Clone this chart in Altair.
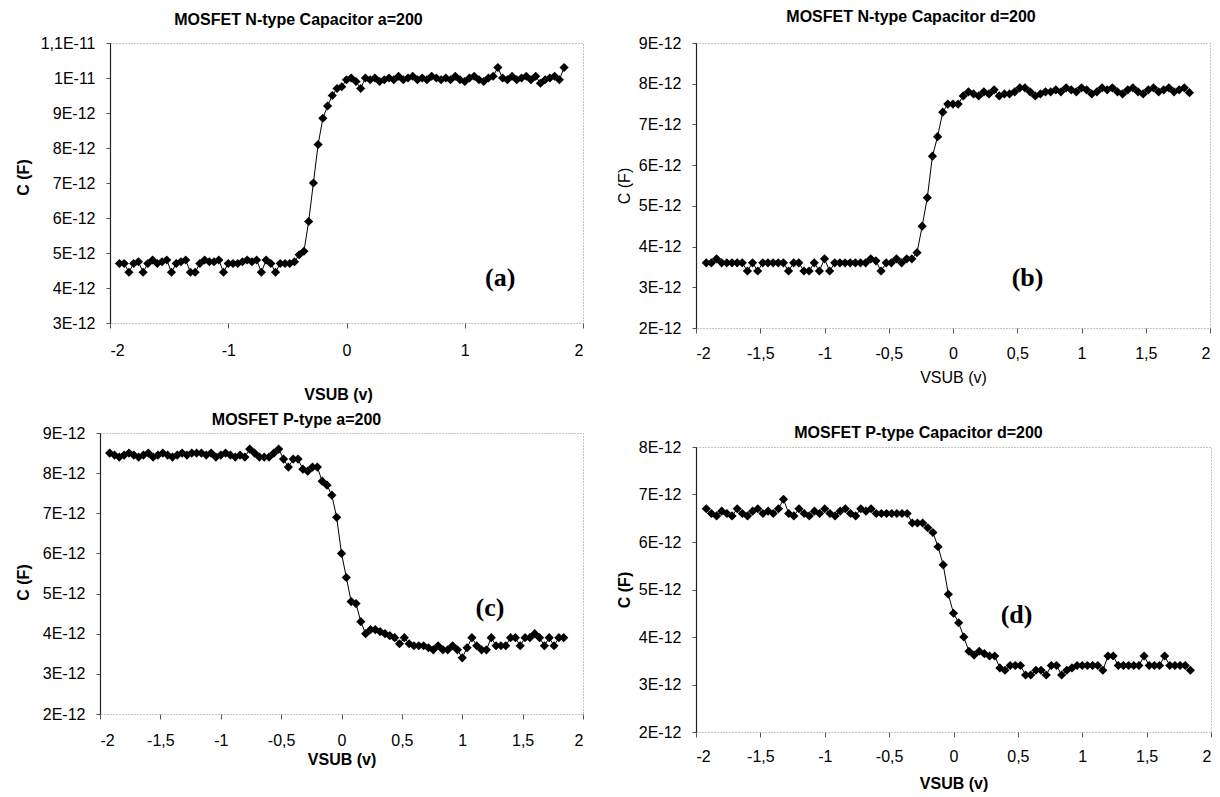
import altair as alt
import pandas as pd

# Sweep voltage VSUB (V), shared by the four measurements
VSUB = [-1.92, -1.88, -1.84, -1.80, -1.76, -1.72, -1.68, -1.64, -1.60, -1.56,
        -1.52, -1.48, -1.44, -1.40, -1.36, -1.32, -1.28, -1.24, -1.20, -1.16,
        -1.12, -1.08, -1.04, -1.00, -0.96, -0.92, -0.88, -0.84, -0.80, -0.76,
        -0.72, -0.68, -0.64, -0.60, -0.56, -0.52, -0.48, -0.44, -0.40, -0.36,
        -0.32, -0.28, -0.24, -0.20, -0.16, -0.12, -0.08, -0.04, 0.00, 0.04,
        0.08, 0.12, 0.16, 0.20, 0.24, 0.28, 0.32, 0.36, 0.40, 0.44,
        0.48, 0.52, 0.56, 0.60, 0.64, 0.68, 0.72, 0.76, 0.80, 0.84,
        0.88, 0.92, 0.96, 1.00, 1.04, 1.08, 1.12, 1.16, 1.20, 1.24,
        1.28, 1.32, 1.36, 1.40, 1.44, 1.48, 1.52, 1.56, 1.60, 1.64,
        1.68, 1.72, 1.76, 1.80, 1.84]

# Capacitance values in units of 1E-12 F
C_A = [4.7, 4.7, 4.45, 4.7, 4.75, 4.45, 4.7, 4.8, 4.7, 4.75,
       4.8, 4.45, 4.7, 4.75, 4.8, 4.45, 4.45, 4.7, 4.8, 4.75,
       4.75, 4.8, 4.45, 4.7, 4.7, 4.7, 4.75, 4.8, 4.75, 4.8,
       4.45, 4.8, 4.7, 4.45, 4.7, 4.7, 4.7,
       4.75, 4.95, 5.05, 5.9, 7.0, 8.1, 8.85, 9.2, 9.5, 9.7, 9.75, 9.95, 10.0, 9.9, 9.7, 10.0,
       9.95, 10.0, 9.9, 9.95, 10.0, 9.95, 10.05, 9.95, 10.0, 10.05,
       9.95, 10.0, 9.95, 10.05, 10.0, 9.95, 10.0, 9.95, 10.05, 9.95,
       9.9, 10.0, 10.05, 9.95, 9.9, 10.0, 10.05, 10.3, 10.0, 9.95,
       10.05, 9.95, 10.0, 10.05, 9.95, 10.05, 9.85, 9.95, 10.0, 10.05,
       9.95, 10.3]

C_B = [3.6, 3.6, 3.7, 3.6, 3.6, 3.6, 3.6, 3.6, 3.4, 3.6,
       3.4, 3.6, 3.6, 3.6, 3.6, 3.6, 3.4, 3.6, 3.6, 3.4,
       3.4, 3.6, 3.4, 3.7, 3.4, 3.6, 3.6, 3.6, 3.6, 3.6,
       3.6, 3.6, 3.7, 3.65, 3.4, 3.6, 3.6, 3.7, 3.6, 3.7, 3.7,
       3.85, 4.5, 5.2, 6.22, 6.7, 7.3, 7.5, 7.5, 7.5,
       7.7, 7.8, 7.75, 7.7, 7.8, 7.75, 7.85, 7.7, 7.75, 7.75,
       7.8, 7.9, 7.9, 7.8, 7.7, 7.75, 7.8, 7.8, 7.85, 7.8,
       7.9, 7.85, 7.8, 7.9, 7.85, 7.75, 7.8, 7.9, 7.85, 7.9,
       7.8, 7.75, 7.85, 7.9, 7.8, 7.75, 7.85, 7.9, 7.8, 7.85,
       7.9, 7.8, 7.85, 7.9, 7.78]

C_C = [8.5, 8.45, 8.4, 8.45, 8.5, 8.45, 8.4, 8.45, 8.5, 8.4,
       8.45, 8.5, 8.45, 8.4, 8.45, 8.5, 8.45, 8.5, 8.5, 8.5,
       8.45, 8.5, 8.4, 8.45, 8.5, 8.45, 8.4,
       8.45, 8.4, 8.6, 8.5, 8.4, 8.4, 8.4, 8.5, 8.6, 8.35,
       8.15, 8.35, 8.35, 8.1, 8.05, 8.15, 8.15, 7.8, 7.7, 7.45,
       6.9, 6.0, 5.4, 4.8, 4.75, 4.3, 4.0,
       4.1, 4.1, 4.05, 4.0, 3.95, 3.9, 3.75, 3.9, 3.75, 3.7,
       3.7, 3.7, 3.65, 3.6, 3.7, 3.6, 3.6, 3.7, 3.6, 3.4,
       3.65, 3.9, 3.7, 3.6, 3.6, 3.9, 3.7, 3.7, 3.7, 3.9,
       3.9, 3.7, 3.9, 3.9, 4.0, 3.9, 3.7, 3.9, 3.7, 3.9, 3.9]

C_D = [6.7, 6.6, 6.55, 6.65, 6.6, 6.55, 6.7, 6.6, 6.55, 6.65,
       6.7, 6.6, 6.65, 6.6, 6.7, 6.9, 6.6, 6.55, 6.7, 6.6,
       6.55, 6.65, 6.6, 6.7, 6.6, 6.55, 6.65, 6.7, 6.6, 6.55,
       6.7, 6.65, 6.7, 6.6, 6.6, 6.6,
       6.6, 6.6, 6.6, 6.6, 6.4, 6.4, 6.4, 6.3, 6.2, 5.9,
       5.52, 4.9, 4.5, 4.3, 4.0, 3.7, 3.62, 3.7,
       3.65, 3.6, 3.6, 3.35, 3.3, 3.4, 3.4, 3.4, 3.2, 3.2,
       3.3, 3.3, 3.2, 3.4, 3.4, 3.2, 3.3, 3.35, 3.4, 3.4,
       3.4, 3.4, 3.4, 3.3, 3.6, 3.6, 3.4, 3.4, 3.4, 3.4,
       3.4, 3.6, 3.4, 3.4, 3.4, 3.6, 3.4, 3.4, 3.4, 3.4, 3.3]

TITLES = ["MOSFET N-type Capacitor a=200", "MOSFET N-type Capacitor d=200",
          "MOSFET P-type a=200", "MOSFET P-type Capacitor d=200"]
TAGS = ["(a)", "(b)", "(c)", "(d)"]
TAG_X = [1.3, 0.58, 1.23, 0.49]
TAG_Y = [4.3, 3.23, 4.64, 4.46]
X_TICKS_COARSE = [-2, -1, 0, 1, 2]
X_TICKS_FINE = [-2, -1.5, -1, -0.5, 0, 0.5, 1, 1.5, 2]
Y_TICKS_A = [3, 4, 5, 6, 7, 8, 9, 10, 11]
Y_TICKS_BC = [2, 3, 4, 5, 6, 7, 8, 9]
Y_TICKS_D = [2, 3, 4, 5, 6, 7, 8]

FONT = "Liberation Sans, Arial, sans-serif"
SERIF = "Liberation Serif, Times New Roman, serif"

X_LABEL = "(datum.value < 0 ? '-' : '') + replace(toString(abs(datum.value)), '.', ',')"
Y_LABEL = ("datum.value == 11 ? '1,1E-11' : datum.value == 10 ? '1E-11' : "
           "datum.value + 'E-12'")


def panel(idx, cvals, yticks, xticks, w, h, t_off, t_dx, x_lpad, x_tpad,
          y_tpad, bold_axis=True, x_title_x=None, y_title_y=None):
    df = pd.DataFrame({"VSUB": VSUB, "C": cvals})
    tag = pd.DataFrame({"VSUB": [TAG_X[idx]], "C": [TAG_Y[idx]], "t": [TAGS[idx]]})
    weight = "bold" if bold_axis else "normal"
    xaxis_kw = dict(values=xticks, labelExpr=X_LABEL, title="VSUB (v)",
                    domain=False, tickSize=5, tickColor="#555", labelPadding=x_lpad,
                    titlePadding=x_tpad, titleFontWeight=weight, grid=False)
    if x_title_x is not None:
        xaxis_kw["titleX"] = x_title_x
    yaxis_kw = dict(values=yticks, labelExpr=Y_LABEL, title="C (F)",
                    domainColor="#222", domainWidth=1.2, tickSize=4,
                    tickColor="#555", labelPadding=11, titlePadding=y_tpad,
                    titleFontWeight=weight, grid=False)
    if y_title_y is not None:
        yaxis_kw["titleY"] = y_title_y
    x = alt.X("VSUB:Q", scale=alt.Scale(domain=[-2, 2], nice=False, zero=False),
              axis=alt.Axis(**xaxis_kw))
    y = alt.Y("C:Q", scale=alt.Scale(domain=[yticks[0], yticks[-1]], nice=False, zero=False),
              axis=alt.Axis(**yaxis_kw))
    base = alt.Chart(df).encode(x=x, y=y)
    line = base.mark_line(color="#000", strokeWidth=1)
    pts = base.mark_point(shape="diamond", filled=True, size=85, color="#000", opacity=1)
    txt = alt.Chart(tag).mark_text(font=SERIF, fontSize=26, fontWeight="bold",
                                   color="#000", baseline="middle").encode(x=x, y=y, text="t:N")
    return alt.layer(line, pts, txt).properties(
        width=w, height=h,
        title=alt.TitleParams(TITLES[idx], font=FONT, fontSize=16, fontWeight="bold",
                              color="#000", offset=t_off, dx=t_dx))


def spacer():
    # invisible 1x1 cell: lets each left-column panel sit flush by its outer bounds
    return alt.Chart(pd.DataFrame({"s": [0]})).mark_point(opacity=0).encode(
        x=alt.value(0), y=alt.value(0)
    ).properties(width=1, height=1, view=alt.ViewBackground(strokeOpacity=0))


a = panel(0, C_A, Y_TICKS_A, X_TICKS_COARSE, 473, 280, 7, -48, 14, 28, 9,
          x_title_x=228, y_title_y=134)
c = panel(2, C_C, Y_TICKS_BC, X_TICKS_FINE, 483, 281, -3, -45, 13, 3, 11, y_title_y=149)
b = panel(1, C_B, Y_TICKS_BC, X_TICKS_FINE, 514, 285, 10, -42, 12, 8, 6, bold_axis=False)
d = panel(3, C_D, Y_TICKS_D, X_TICKS_FINE, 515, 285, -2, -35, 11, 11, 6)

left = alt.concat(alt.hconcat(spacer(), a, spacing=0),
                  alt.hconcat(spacer(), c, spacing=0),
                  columns=1, spacing=8, align="none")
right = alt.concat(b, d, columns=1, spacing=38, align="none")

chart = alt.hconcat(left, right, spacing=31).properties(
    padding={"left": 0, "top": 0, "right": 0, "bottom": 0}
).configure(background="white").configure_view(
    stroke="#8a8a8a", strokeDash=[1, 2], strokeWidth=1
).configure_axis(
    labelFont=FONT, labelFontSize=16, labelColor="#000",
    titleFont=FONT, titleFontSize=16, titleColor="#000"
)

chart.save("out.html", embed_options={"renderer": "svg", "actions": False})
